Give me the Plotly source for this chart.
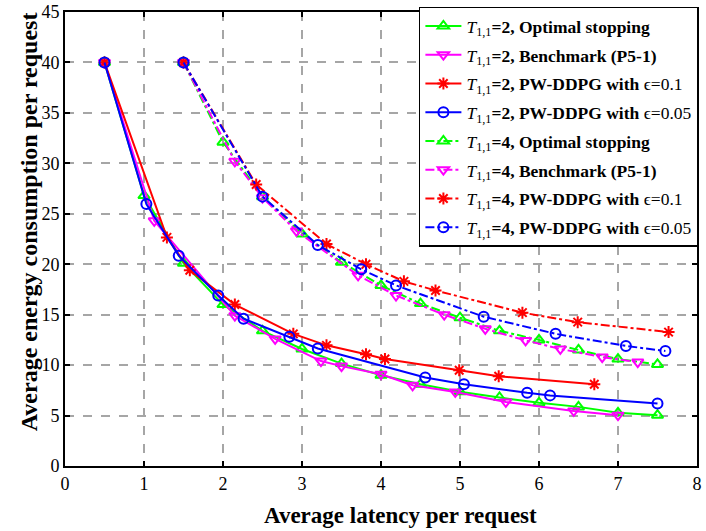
import plotly.graph_objects as go

# ---- data ----
# T=2
os2_x = [0.5, 1.0, 1.5, 2.0, 2.5, 3.0, 3.5, 4.0, 4.5, 5.0, 5.5, 6.0, 6.5, 7.0, 7.5]
os2_y = [40, 26.8, 20.1, 16.0, 13.4, 11.6, 10.15, 9.0, 8.1, 7.35, 6.79, 6.26, 5.86, 5.27, 5.04]
bm2_x = [0.5, 1.13, 2.15, 2.66, 3.24, 3.5, 4.0, 4.4, 4.94, 5.58, 6.44, 7.0]
bm2_y = [40, 24.3, 14.9, 12.6, 10.4, 9.9, 9.1, 8.0, 7.34, 6.35, 5.46, 5.04]
rd2_x = [0.5, 1.29, 1.58, 2.15, 2.89, 3.31, 3.81, 4.05, 4.99, 5.49, 6.7]
rd2_y = [40, 22.66, 19.4, 16.0, 13.1, 11.96, 11.07, 10.6, 9.49, 8.9, 8.1]
bl2_x = [0.5, 1.03, 1.44, 1.94, 2.26, 2.84, 3.2, 4.56, 5.05, 5.85, 6.14, 7.5]
bl2_y = [40, 25.96, 20.85, 16.9, 14.6, 12.8, 11.65, 8.78, 8.1, 7.25, 7.0, 6.2]
# T=4
os4_x = [1.5, 2.0, 2.5, 3.0, 3.5, 4.0, 4.5, 5.0, 5.5, 6.0, 6.5, 7.0, 7.5]
os4_y = [40, 32.1, 26.7, 23.0, 20.2, 17.9, 16.1, 14.7, 13.4, 12.5, 11.5, 10.6, 10.07]
bm4_x = [1.5, 2.15, 2.5, 2.93, 3.71, 4.19, 4.8, 5.32, 5.83, 6.27, 6.8, 7.25]
bm4_y = [40, 30.2, 26.6, 23.3, 18.9, 16.9, 15.0, 13.6, 12.45, 11.6, 10.8, 10.3]
rd4_x = [1.5, 2.42, 3.31, 3.81, 4.29, 4.69, 5.79, 6.49, 7.64]
rd4_y = [40, 27.9, 22.0, 20.0, 18.3, 17.4, 15.2, 14.26, 13.27]
bl4_x = [1.5, 2.5, 3.2, 3.75, 4.19, 5.3, 6.21, 7.1, 7.6]
bl4_y = [40, 26.7, 21.9, 19.5, 17.9, 14.8, 13.1, 11.9, 11.4]

x_ticks = [0, 1, 2, 3, 4, 5, 6, 7, 8]
y_ticks = [0, 5, 10, 15, 20, 25, 30, 35, 40, 45]
x_title = "Average latency per request"
y_title = "Average energy consumption per request"

T = "<i>T</i><sub>1,1</sub>"
series = [
    (os2_x, os2_y, T + "<b>=2, Optimal stopping</b>", "#00ff00", "triangle-up-open", "solid"),
    (bm2_x, bm2_y, T + "<b>=2, Benchmark (P5-1)</b>", "#ff00ff", "triangle-down-open", "solid"),
    (rd2_x, rd2_y, T + "<b>=2, PW-DDPG with </b>ϵ=0.1", "#ff0000", "asterisk-open", "solid"),
    (bl2_x, bl2_y, T + "<b>=2, PW-DDPG with </b>ϵ=0.05", "#0000ff", "circle-open", "solid"),
    (os4_x, os4_y, T + "<b>=4, Optimal stopping</b>", "#00ff00", "triangle-up-open", "dashdot"),
    (bm4_x, bm4_y, T + "<b>=4, Benchmark (P5-1)</b>", "#ff00ff", "triangle-down-open", "dashdot"),
    (rd4_x, rd4_y, T + "<b>=4, PW-DDPG with </b>ϵ=0.1", "#ff0000", "asterisk-open", "dashdot"),
    (bl4_x, bl4_y, T + "<b>=4, PW-DDPG with </b>ϵ=0.05", "#0000ff", "circle-open", "dashdot"),
]

fig = go.Figure()
for i, (xs, ys, name, col, sym, dash) in enumerate(series):
    fig.add_trace(go.Scatter(
        x=xs, y=ys, name=name, mode="lines+markers",
        line=dict(color=col, width=2, dash=dash),
        marker=dict(symbol=sym, size=10, color=col, line=dict(color=col, width=2)),
        legendgroup=str(i),
    ))

font_family = "Liberation Serif, Times New Roman, serif"
W, H = 706, 531
ML, MR, MT, MB = 65, 7, 10, 65
fig.update_layout(
    width=W, height=H,
    margin=dict(l=ML, r=MR, t=MT, b=MB),
    paper_bgcolor="white", plot_bgcolor="white",
    font=dict(family=font_family, size=18, color="black"),
    legend=dict(
        x=1.003, y=1.012, xanchor="right", yanchor="top",
        bgcolor="white", bordercolor="black", borderwidth=1.5,
        font=dict(family=font_family, size=17.5, color="black"),
        tracegroupgap=3, itemwidth=36,
    ),
)
axis_common = dict(
    showline=True, linecolor="black", linewidth=2, mirror="ticks",
    ticks="inside", ticklen=5, tickwidth=1.5, tickcolor="black",
    showgrid=True, gridcolor="#a6a6a6", gridwidth=1.5, griddash="dash",
    zeroline=False, automargin=False,
    tickfont=dict(family=font_family, size=18, color="black"),
)
fig.update_xaxes(range=[0, 8], tickvals=x_ticks, ticklabeloverflow="allow", **axis_common)
fig.update_yaxes(range=[0, 45], tickvals=y_ticks, ticklabeloverflow="allow", **axis_common)

pw, ph = W - ML - MR, H - MT - MB
# axis titles placed as in the reference (slightly off-centre)
fig.add_annotation(
    text="<b>" + x_title + "</b>", xref="paper", yref="paper",
    x=(402 - ML) / pw, y=-(516 - (H - MB)) / ph, xanchor="center", yanchor="middle",
    showarrow=False, font=dict(family=font_family, size=23, color="black"),
)
fig.add_annotation(
    text="<b>" + y_title + "</b>", xref="paper", yref="paper",
    x=-(ML - 29) / pw, y=1 - (221 - MT) / ph, xanchor="center", yanchor="middle",
    textangle=-90, showarrow=False,
    font=dict(family=font_family, size=24, color="black"),
)

fig.write_html("out.html")
